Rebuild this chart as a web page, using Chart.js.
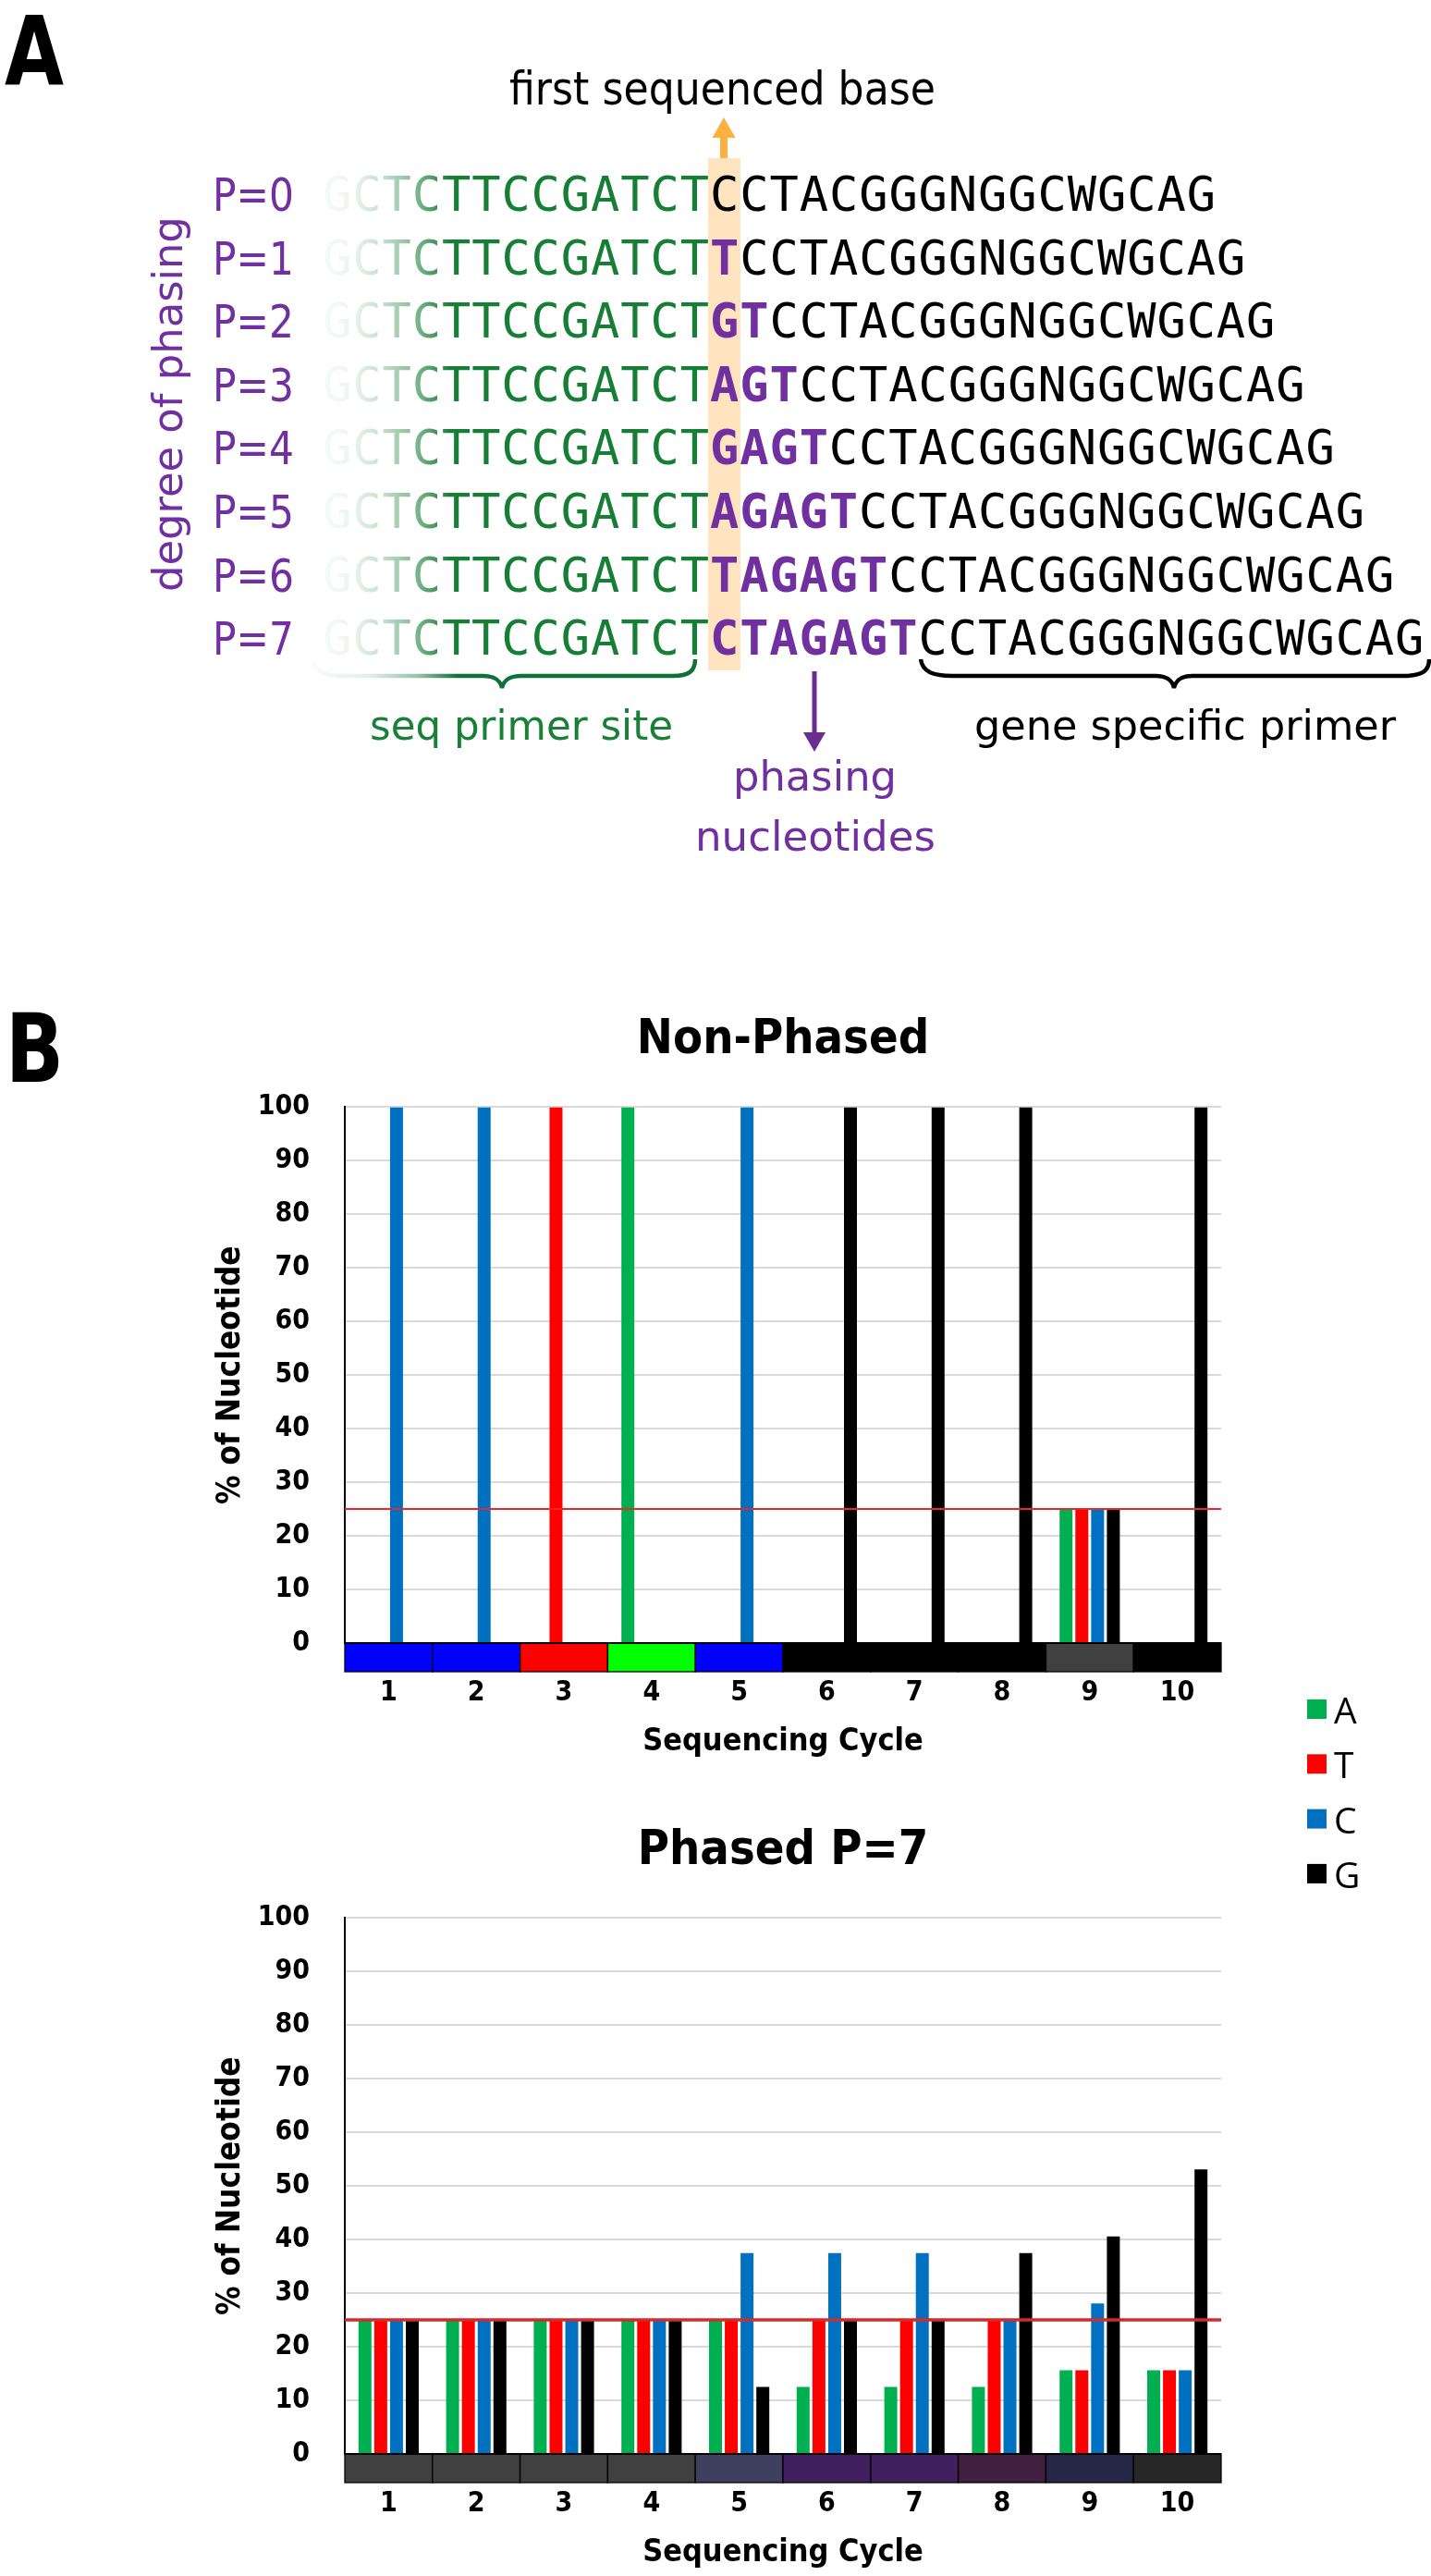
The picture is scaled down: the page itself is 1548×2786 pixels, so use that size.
<!DOCTYPE html>
<html>
<head>
<meta charset="utf-8">
<script src="https://cdn.jsdelivr.net/npm/chart.js@4"></script>
<style>
  html, body { margin: 0; padding: 0; background: #fff; }
  #page { position: relative; width: 1548px; height: 2786px; overflow: hidden; }
  #page canvas { position: absolute; }
  #art { position: absolute; left: 0; top: 0; z-index: 2; pointer-events: none; }
  .narrow { font-family: 'Liberation Sans Narrow', 'DejaVu Sans Condensed', 'Open Sans', sans-serif; }
  .mono { font-family: 'DejaVu Sans Mono', 'Liberation Mono', monospace; }
</style>
</head>
<body>
<div id="page">
  <svg id="art" width="1548" height="2786" xmlns="http://www.w3.org/2000/svg">
    <defs>
      <linearGradient id="primerFade" gradientUnits="userSpaceOnUse" x1="349" y1="0" x2="768" y2="0">
        <stop offset="0" stop-color="#177E36" stop-opacity="0.03"/>
        <stop offset="0.077" stop-color="#177E36" stop-opacity="0.08"/>
        <stop offset="0.154" stop-color="#177E36" stop-opacity="0.25"/>
        <stop offset="0.23" stop-color="#177E36" stop-opacity="0.5"/>
        <stop offset="0.3" stop-color="#177E36" stop-opacity="0.85"/>
        <stop offset="0.33" stop-color="#177E36" stop-opacity="1"/>
      </linearGradient>
      <linearGradient id="braceFade" gradientUnits="userSpaceOnUse" x1="338" y1="0" x2="752" y2="0">
        <stop offset="0" stop-color="#11703A" stop-opacity="0.02"/>
        <stop offset="0.15" stop-color="#11703A" stop-opacity="0.12"/>
        <stop offset="0.28" stop-color="#11703A" stop-opacity="0.45"/>
        <stop offset="0.38" stop-color="#11703A" stop-opacity="1"/>
      </linearGradient>
    </defs>

    <!-- panel A -->
    <text class="narrow" x="5" y="92" font-size="103" font-weight="bold" textLength="64" lengthAdjust="spacingAndGlyphs">A</text>
    <text class="narrow" x="551" y="113" font-size="50" textLength="461" lengthAdjust="spacingAndGlyphs">first sequenced base</text>
    <rect x="779" y="145" width="8" height="26" fill="#FBB040"/>
    <polygon points="770.5,149 795.5,149 783,127" fill="#FBB040"/>
    <rect x="766" y="171" width="35" height="554" fill="#FFE4BF"/>
    <g id="rows"></g>
    <text id="degree" fill="#7030A0" font-family="'DejaVu Sans', sans-serif" font-size="45">degree of phasing</text>

    <path d="M338,713 C340,727 352,731 372,731 L522,731 C536,731 541,736 543,744 C545,736 550,731 564,731 L728,731 C745,731 752,726 752,713"
          fill="none" stroke="url(#braceFade)" stroke-width="4.5"/>
    <path d="M996,713 C998,727 1010,731 1030,731 L1250,731 C1263,731 1268,736 1270,744 C1272,736 1277,731 1290,731 L1518,731 C1538,731 1546,726 1546,713"
          fill="none" stroke="#000" stroke-width="4.5"/>
    <rect x="878.5" y="726" width="5" height="70" fill="#6B2D90"/>
    <polygon points="869,792 893,792 881,813" fill="#6B2D90"/>

    <text class="narrow" x="400" y="800" font-size="44" fill="#1A7F37" textLength="328" lengthAdjust="spacingAndGlyphs">seq primer site</text>
    <text class="narrow" x="1054" y="800" font-size="44" fill="#000" textLength="456" lengthAdjust="spacingAndGlyphs">gene specific primer</text>
    <text class="narrow" x="793" y="855" font-size="44" fill="#7030A0" textLength="177" lengthAdjust="spacingAndGlyphs">phasing</text>
    <text class="narrow" x="752" y="920" font-size="44" fill="#7030A0" textLength="260" lengthAdjust="spacingAndGlyphs">nucleotides</text>

    <!-- panel B -->
    <text class="narrow" x="6" y="1170" font-size="103" font-weight="bold" textLength="63" lengthAdjust="spacingAndGlyphs">B</text>
    <g id="legend"></g>
  </svg>
  <canvas id="nonPhased" width="1168" height="820" style="left:180px;top:1085px"></canvas>
  <canvas id="phased" width="1168" height="820" style="left:180px;top:1962px"></canvas>
</div>
<script>
// sequencing cycles and bases
const cycles = ['1', '2', '3', '4', '5', '6', '7', '8', '9', '10'];
const bases = ['A', 'T', 'C', 'G'];
const baseColors = ['#00B050', '#FF0000', '#0070C0', '#000000'];

// Non-Phased: % of each nucleotide per cycle
const nonPhasedA = [0, 0, 0, 100, 0, 0, 0, 0, 25, 0];
const nonPhasedT = [0, 0, 100, 0, 0, 0, 0, 0, 25, 0];
const nonPhasedC = [100, 100, 0, 0, 100, 0, 0, 0, 25, 0];
const nonPhasedG = [0, 0, 0, 0, 0, 100, 100, 100, 25, 100];

// Phased P=7
const phasedA = [25, 25, 25, 25, 25, 12.5, 12.5, 12.5, 15.6, 15.6];
const phasedT = [25, 25, 25, 25, 25, 25, 25, 25, 15.6, 15.6];
const phasedC = [25, 25, 25, 25, 37.5, 37.5, 37.5, 25, 28.1, 15.6];
const phasedG = [25, 25, 25, 25, 12.5, 25, 25, 37.5, 40.6, 53.1];

const expectedShare = 25; // red line

// colour strip under each chart, one per cycle
const nonPhasedCycleColors = ['#0000FF', '#0000FF', '#FF0000', '#00FF00', '#0000FF', '#000000', '#000000', '#000000', '#404040', '#000000'];
const phasedCycleColors = ['#404040', '#404040', '#404040', '#404040', '#3F3F5F', '#41205F', '#41205F', '#401F3F', '#262646', '#272727'];

// panel A sequences
const primerSite = 'GCTCTTCCGATCT';
const phasingBases = 'CTAGAGT';
const geneSpecific = 'CCTACGGGNGGCWGCAG';

const NS = 'http://www.w3.org/2000/svg';
function svgEl(tag, attrs, parent, text) {
    const el = document.createElementNS(NS, tag);
    for (const k in attrs) el.setAttribute(k, attrs[k]);
    if (text !== undefined) el.textContent = text;
    parent.appendChild(el);
    return el;
}

// rows P=0 .. P=7
const rows = document.getElementById('rows');
for (let p = 0; p <= 7; p++) {
    const y = 228 + p * 68.6;
    svgEl('text', {class: 'narrow', x: 230, y: y, 'font-size': 50, fill: '#7030A0',
        textLength: 88, lengthAdjust: 'spacingAndGlyphs'}, rows, 'P=' + p);
    const phase = phasingBases.slice(7 - p);
    const n = primerSite.length + phase.length + geneSpecific.length;
    const t = svgEl('text', {class: 'mono', x: 349, y: y, 'font-size': 52,
        textLength: (n * 32.2).toFixed(1), lengthAdjust: 'spacing'}, rows);
    svgEl('tspan', {fill: 'url(#primerFade)'}, t, primerSite);
    if (phase) svgEl('tspan', {fill: '#7030A0', 'font-weight': 'bold'}, t, phase);
    svgEl('tspan', {fill: '#000'}, t, geneSpecific);
}

// vertical "degree of phasing", squeezed to span y 234..640
const degree = document.getElementById('degree');
const degreeLen = degree.getComputedTextLength();
degree.setAttribute('transform', `translate(197,640) rotate(-90) scale(${(406 / degreeLen).toFixed(4)},1)`);

// shared legend
const legend = document.getElementById('legend');
bases.forEach((b, i) => {
    const top = 1838 + i * 59.3;
    svgEl('rect', {x: 1414, y: top, width: 21, height: 21, fill: baseColors[i]}, legend);
    svgEl('text', {x: 1443, y: top + 10.5, 'font-size': 39, 'dominant-baseline': 'central',
        'font-family': "'Open Sans', sans-serif", fill: '#000'}, legend, b);
});

// colour strip + 25% line
const cycleStrip = {
    id: 'cycleStrip',
    afterDatasetsDraw(chart, args, opts) {
        const {ctx, chartArea, scales: {x, y}} = chart;
        const w = (chartArea.right - chartArea.left) / chart.data.labels.length;
        ctx.save();
        opts.colors.forEach((c, i) => {
            const cx = x.getPixelForValue(i);
            ctx.fillStyle = c;
            ctx.fillRect(cx - w / 2, chartArea.bottom, w, opts.height);
            ctx.strokeStyle = 'rgba(0,0,0,0.85)';
            ctx.lineWidth = 1.5;
            ctx.strokeRect(cx - w / 2, chartArea.bottom, w, opts.height);
        });
        ctx.fillStyle = '#000';
        ctx.fillRect(chartArea.left, chartArea.bottom - 1, chartArea.right - chartArea.left, 2);

        const ty = y.getPixelForValue(opts.line);
        ctx.strokeStyle = opts.lineColor;
        ctx.lineWidth = opts.lineWidth;
        ctx.beginPath();
        ctx.moveTo(chartArea.left, ty);
        ctx.lineTo(chartArea.right, ty);
        ctx.stroke();
        ctx.restore();
    }
};

Chart.defaults.font.family = "'DejaVu Sans Condensed', 'Liberation Sans Narrow', 'Open Sans', sans-serif";
Chart.defaults.color = '#000';

function createChart(id, title, series, stripColors, lineColor, lineWidth) {
    return new Chart(document.getElementById(id), {
        type: 'bar',
        data: {
            labels: cycles,
            datasets: bases.map((b, i) => ({
                label: b,
                data: series[i],
                backgroundColor: baseColors[i],
                borderWidth: 0,
                barPercentage: 0.82,
                categoryPercentage: 0.72,
            })),
        },
        options: {
            responsive: false,
            animation: false,
            devicePixelRatio: 1,
            layout: {padding: {right: 27}},
            plugins: {
                legend: {display: false},
                tooltip: {enabled: false},
                title: {
                    display: true,
                    fullSize: false, // centre over the plot area
                    text: title,
                    color: '#000',
                    font: {size: 52, weight: 'bold'},
                    padding: {top: 9, bottom: 41},
                },
                cycleStrip: {colors: stripColors, height: 31, line: expectedShare, lineColor: lineColor, lineWidth: lineWidth},
            },
            scales: {
                x: {
                    grid: {display: false, drawTicks: false},
                    border: {display: false},
                    ticks: {color: '#000', font: {size: 30, weight: 'bold'}, padding: 36},
                    title: {
                        display: true,
                        text: 'Sequencing Cycle',
                        color: '#000',
                        font: {size: 34, weight: 'bold'},
                        padding: {top: 0, bottom: 0},
                    },
                    afterFit(scale) { scale.height = 128; },
                },
                y: {
                    min: 0,
                    max: 100,
                    ticks: {stepSize: 10, color: '#000', font: {size: 30, weight: 'bold'}, padding: 38},
                    grid: {color: '#D9D9D9', lineWidth: 2, drawTicks: false},
                    border: {color: '#000', width: 2},
                    title: {
                        display: true,
                        text: '% of Nucleotide',
                        color: '#000',
                        font: {size: 35, weight: 'bold'},
                        padding: {top: 49},
                    },
                    afterFit(scale) { scale.width = 193; },
                },
            },
        },
        plugins: [cycleStrip],
    });
}

createChart('nonPhased', 'Non-Phased', [nonPhasedA, nonPhasedT, nonPhasedC, nonPhasedG], nonPhasedCycleColors, '#E8262B', 2);
createChart('phased', 'Phased P=7', [phasedA, phasedT, phasedC, phasedG], phasedCycleColors, '#D42A2A', 3.5);
</script>
</body>
</html>
